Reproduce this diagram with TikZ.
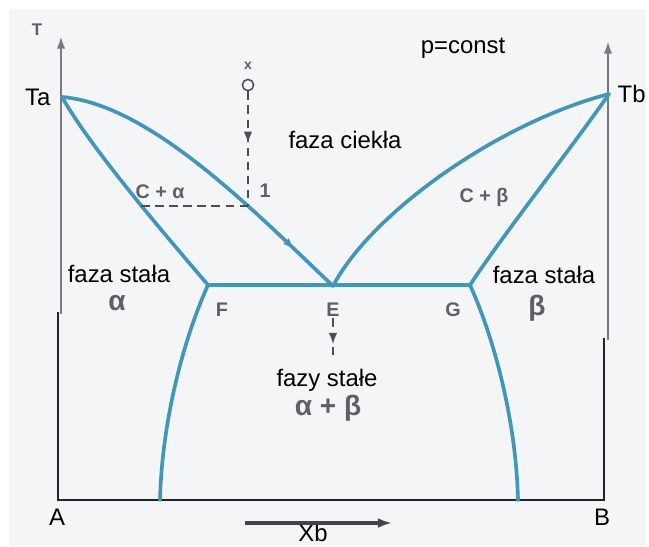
\documentclass[tikz,border=0pt]{standalone}
\usepackage{fontspec}
\setmainfont{Liberation Sans}
\usetikzlibrary{arrows.meta, positioning, decorations.markings}
\definecolor{myblue}{RGB}{66,150,186}
\definecolor{mydark}{RGB}{35,35,40}
\definecolor{mygray}{RGB}{120,122,128}
\definecolor{mybg}{RGB}{243,245,247}
\definecolor{mylabel}{RGB}{95,95,100}
\tikzset{
  phaseline/.style={color=myblue, line width=2.6pt, line cap=round, line join=round},
  axisline/.style={color=mygray, line width=1.7pt, -{Latex[length=9pt,width=6pt]}},
  frameline/.style={color=mydark, line width=2pt, line join=miter},
  guide/.style={color=mydark!80, dash pattern=on 6pt off 4pt, line width=1.2pt},
  dirarrow/.style={color=mydark!85, line width=2.6pt, -{Latex[length=10pt,width=7pt]}},
  txt/.style={font=\fontsize{17}{19}\selectfont, inner sep=1pt},
  ptlabel/.style={font=\fontsize{14}{16}\selectfont\bfseries, color=mylabel, inner sep=1pt},
  greek/.style={font=\fontsize{20}{22}\selectfont\bfseries, color=mylabel, inner sep=0pt},
  midarrow/.style={postaction={decorate}, decoration={markings,
    mark=at position #1 with {\arrow{Latex[length=8pt,width=6pt]}}}}
}
\begin{document}
\begin{tikzpicture}[x=0.025cm, y=-0.025cm]
  \useasboundingbox (0,0) rectangle (649,546);
  \fill[white] (0,0) rectangle (649,546);
  \fill[mybg] (9,9) rectangle (646,546);

  % Key points of the diagram
  \coordinate (Ta) at (62,97);
  \coordinate (Tb) at (609,94);
  \coordinate (E) at (333,286);
  \coordinate (F) at (208,285);
  \coordinate (G) at (470,285);
  \coordinate (Fb) at (160,500);
  \coordinate (Gb) at (518,500);
  \coordinate (p1) at (248,206);
  \coordinate (p1s) at (138,206);

  % Axes and frame
  \draw[frameline] (58,312) -- (58,500) -- (604,500) -- (604,338);
  \draw[axisline] (61,314) -- (61,36);
  \draw[axisline] (608,340) -- (608,41);

  % Liquidus and solidus, A side
  \draw[phaseline, midarrow=0.84] (Ta) .. controls (150,104) and (255,212) .. (E);
  \draw[phaseline] (Ta) .. controls (92,150) and (168,238) .. (F);

  % Liquidus and solidus, B side
  \draw[phaseline] (E) .. controls (372,212) and (500,122) .. (Tb);
  \draw[phaseline] (G) .. controls (505,232) and (570,150) .. (Tb);

  % Eutectic line and solvus curves
  \draw[phaseline] (F) -- (G);
  \draw[phaseline] (F) .. controls (184,338) and (162,420) .. (Fb);
  \draw[phaseline] (G) .. controls (494,338) and (516,420) .. (Gb);

  % Cooling of alloy x
  \node[circle, draw=mydark!80, line width=1.1pt, fill=mybg, minimum size=8pt, inner sep=0pt] (xc) at (248,85) {};
  \node[ptlabel, font=\fontsize{10}{11}\selectfont\bfseries, above=5pt of xc] (xlbl) {x};
  \draw[guide, midarrow=0.45] (xc.south) -- (p1);
  \draw[guide] (p1) -- (p1s);
  \node[ptlabel] (one) at (265,191) {1};

  % Axis labels
  \node[ptlabel, font=\fontsize{12}{13}\selectfont\bfseries] (Tlbl) at (37,30) {T};
  \node[txt, left=7pt of Ta] (Talbl) {Ta};
  \node[txt, right=5pt of Tb] (Tblbl) {Tb};
  \node[txt] (A) at (57,517) {A};
  \node[txt] (B) at (602,517) {B};
  \node[txt] (Xb) at (313,533) {Xb};
  \coordinate (xs) at (245,523);
  \coordinate (xe) at (392,523);
  \draw[dirarrow] (xs) -- (xe);

  % Phase regions
  \node[txt] (pc) at (463,48) {p=const};
  \node[txt] (liq) at (345,140) {faza ciekła};
  \node[ptlabel] (ca) at (160,192) {C + α};
  \node[ptlabel] (cb) at (484,197) {C + β};
  \node[txt] (sa) at (119,274) {faza stała};
  \node[greek] (al) at (117,303) {α};
  \node[txt] (sb) at (544,275) {faza stała};
  \node[greek] (be) at (537,308) {β};

  % Eutectic points
  \node[ptlabel] (Flbl) at (222,310) {F};
  \node[ptlabel] (Elbl) at (333,310) {E};
  \node[ptlabel] (Glbl) at (453,310) {G};
  \coordinate (ee) at (333,360);
  \draw[guide, midarrow=0.62] (Elbl.south) -- (ee);
  \node[txt] (solid) at (327,380) {fazy stałe};
  \node[greek] (ab) at (328,408) {α + β};
\end{tikzpicture}
\end{document}
